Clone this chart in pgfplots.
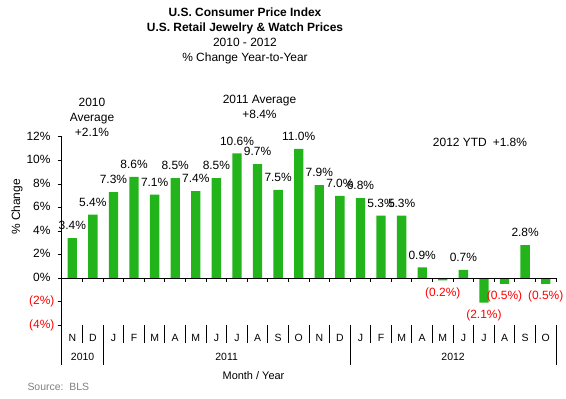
\documentclass[border=0pt]{standalone}
\usepackage{fontspec}
\setmainfont{Liberation Sans}
\usepackage{pgfplots}
\pgfplotsset{compat=1.18}
\definecolor{bargreen}{RGB}{34,180,26}
\definecolor{srcgray}{RGB}{128,128,128}
\definecolor{negred}{RGB}{255,0,0}
\newcommand{\lbl}{\fontsize{12}{14.4}\selectfont}
\newcommand{\sml}{\fontsize{10.5}{12}\selectfont}
\begin{document}
\begin{tikzpicture}[font=\lbl]
\path[use as bounding box] (-62bp,-74bp) rectangle (504bp,325bp);
\begin{axis}[
  at={(0,0)}, anchor=south west,
  scale only axis, width=494bp, height=188bp,
  clip=false,
  xmin=-0.5, xmax=23.5, ymin=-4, ymax=12,
  axis y line=left, axis x line=bottom,
  axis line style={-, line width=1bp, black},
  x axis line style={draw=none},
  ytick={-4,-2,0,2,4,6,8,10,12},
  yticklabels={\textcolor{negred}{(4\%)},\textcolor{negred}{(2\%)},0\%\phantom{)},2\%\phantom{)},4\%\phantom{)},6\%\phantom{)},8\%\phantom{)},10\%\phantom{)},12\%\phantom{)}},
  ytick align=outside,
  ytick style={line width=1bp, black},
  major tick length=4bp,
  yticklabel style={font=\lbl},
  xtick={0,...,23},
  xticklabels={N,D,J,F,M,A,M,J,J,A,S,O,N,D,J,F,M,A,M,J,J,A,S,O},
  xtick style={draw=none},
  xticklabel style={font=\sml, anchor=base, yshift=-12.5bp},
  /pgf/number format/assume math mode=true,
  ybar, bar width=9.3bp, bar shift=0pt,
  title={\textbf{U.S. Consumer Price Index}\\\textbf{U.S. Retail Jewelry \& Watch Prices}\\2010 - 2012\\\% Change Year-to-Year},
  title style={align=center, font=\fontsize{12}{15}\selectfont, anchor=center, at={([shift={(183bp,283.5bp)}]rel axis cs:0,0)}},
  ylabel={\% Change},
  ylabel style={font=\lbl, anchor=center, rotate=0, at={([shift={(-45bp,118bp)}]rel axis cs:0,0)}},
  xlabel={Month / Year},
  xlabel style={font=\fontsize{11}{13}\selectfont, anchor=center, at={([shift={(191.5bp,-51bp)}]rel axis cs:0,0)}},
]
\addplot[fill=bargreen, draw=none,
  nodes near coords={\pgfmathprintnumber[fixed,fixed zerofill,precision=1]{\pgfplotspointmeta}\%},
  every node near coord/.append style={anchor=south, inner sep=0pt, yshift=8bp, text=black, font=\lbl}]
  coordinates {(0,3.4) (1,5.4) (2,7.3) (3,8.6) (4,7.1) (5,8.5) (6,7.4) (7,8.5) (8,10.6) (9,9.7) (10,7.5) (11,11.0) (12,7.9) (13,7.0) (14,6.8) (15,5.3) (16,5.3) (17,0.9) (19,0.7) (22,2.8)};
\addplot[fill=bargreen, draw=none, point meta=explicit,
  nodes near coords={(\pgfmathprintnumber[fixed,fixed zerofill,precision=1]{\pgfplotspointmeta}\%)},
  every node near coord/.append style={anchor=north, inner sep=0pt, yshift=-7bp, text=negred, font=\lbl}]
  table[x=x, y=y, meta=m] {
x y m
18 -0.2 0.2
20 -2.1 2.1
21 -0.5 0.5
23 -0.5 0.5
};
% zero line with ticks between categories
\draw[line width=1bp] (axis cs:-0.5,0) -- (axis cs:23.5,0);
\pgfplotsinvokeforeach{0.5,1.5,...,23.5}{\draw[line width=1bp] (axis cs:#1,0) -- ([yshift=-4bp]axis cs:#1,0);}
% category table separators
\pgfplotsinvokeforeach{0.5,1.5,...,22.5}{\draw[line width=1bp] (axis cs:#1,-4) -- ([yshift=-18bp]axis cs:#1,-4);}
\pgfplotsinvokeforeach{-0.5,1.5,13.5,23.5}{\draw[line width=1bp] (axis cs:#1,-4) -- ([yshift=-40bp]axis cs:#1,-4);}
\node[font=\sml] at ([yshift=-32bp]axis cs:0.5,-4) {2010};
\node[font=\sml] at ([yshift=-32bp]axis cs:7.5,-4) {2011};
\node[font=\sml] at ([yshift=-32bp]axis cs:18.5,-4) {2012};
% annotations
\node[align=center, font=\fontsize{12}{15}\selectfont] at ([shift={(30bp,208bp)}]rel axis cs:0,0) {2010\\Average\\+2.1\%};
\node[align=center, font=\fontsize{12}{15.5}\selectfont] at ([shift={(197.5bp,218bp)}]rel axis cs:0,0) {2011 Average\\+8.4\%};
\node at ([shift={(418bp,183bp)}]rel axis cs:0,0) {2012 YTD\hspace{6bp}+1.8\%};
\node[anchor=west, text=srcgray, font=\sml] at ([shift={(-38bp,-62bp)}]rel axis cs:0,0) {Source:\ \ BLS};
\end{axis}
\end{tikzpicture}
\end{document}
